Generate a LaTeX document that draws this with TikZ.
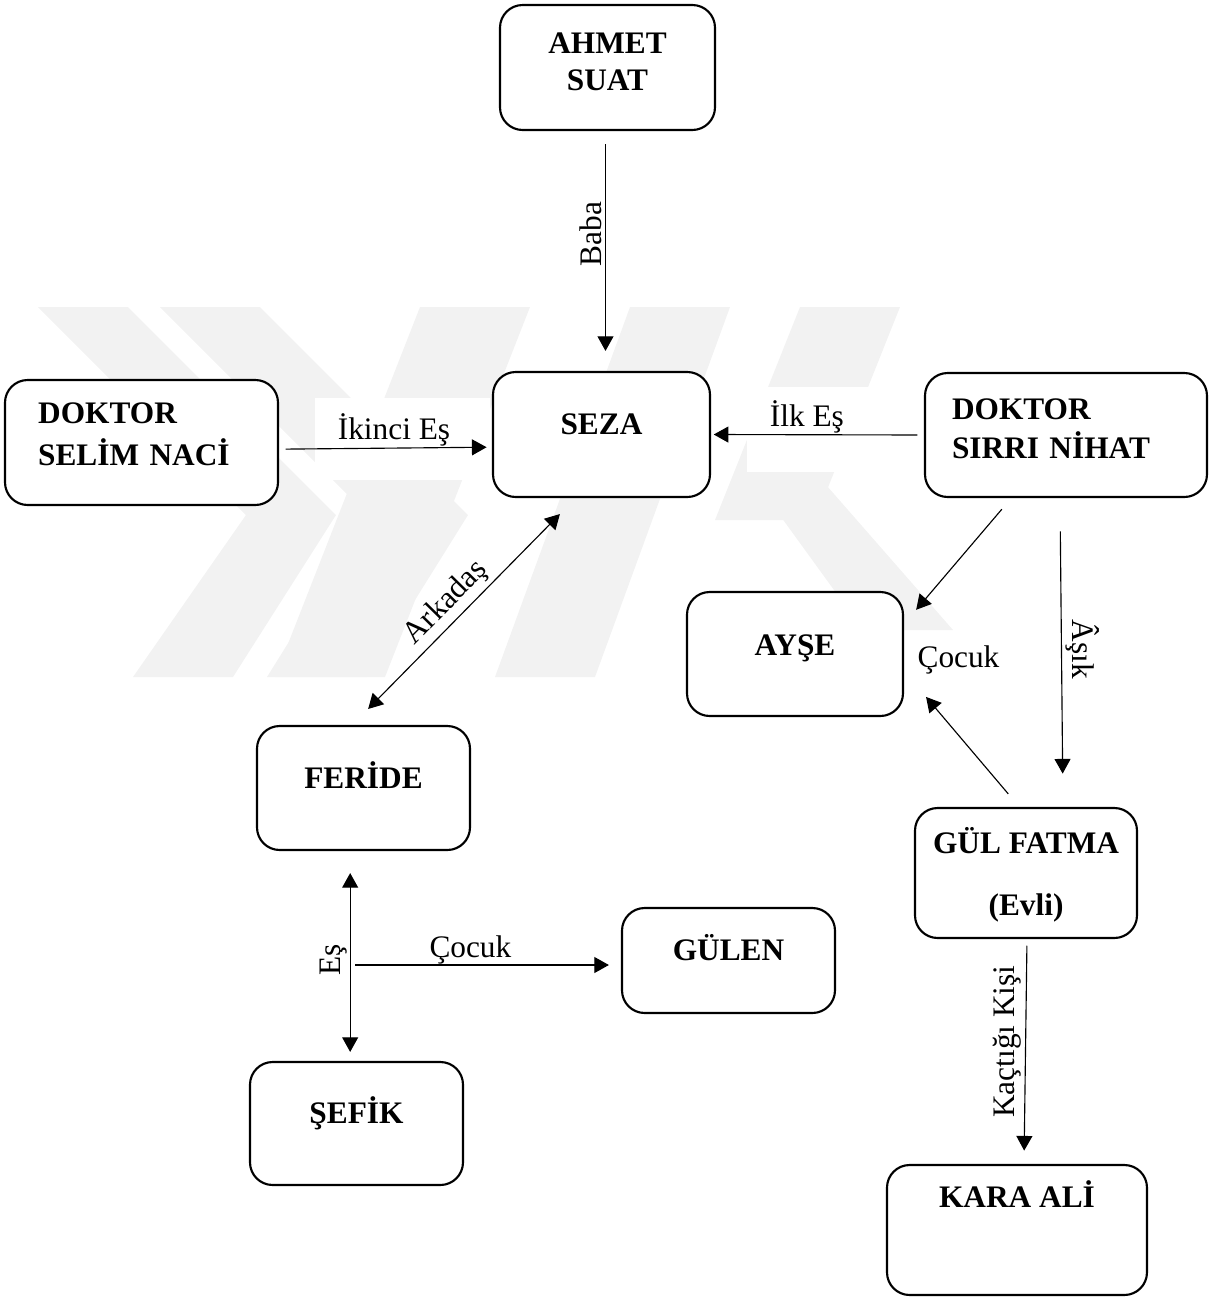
\documentclass[tikz,border=0pt]{standalone}
\usepackage{fontspec}
\setmainfont{Liberation Serif}
\usetikzlibrary{positioning,arrows.meta}
\newcommand{\dgfont}{\fontsize{23.5}{28}\selectfont}

\begin{document}
\begin{tikzpicture}[x=0.75pt, y=-0.75pt,
    every node/.style={font=\dgfont},
    pbox/.style={draw, line width=1.6pt, rounded corners=17pt, fill=white, font=\dgfont\bfseries, align=center},
    onel/.style={text height=16pt, text depth=16pt},
    arr/.style={-{Triangle[length=11pt,width=12pt]}, line width=0.85pt},
    darr/.style={{Triangle[length=11pt,width=12pt]}-{Triangle[length=11pt,width=12pt]}, line width=0.85pt},
    lbl/.style={inner sep=2pt}]
    \useasboundingbox (0,0) rectangle (1213,1297);
    \fill[black!5] (38,307) -- (128,307) -- (336,515) -- (233,677) -- (133,677) -- (246,515) -- cycle;
    \fill[black!5] (160,307) -- (260,307) -- (468,515) -- (367,677) -- (267,677) -- (368,515) -- cycle;
    \fill[black!5] (420,307) -- (530,307) -- (385,677) -- (275,677) -- cycle;
    \fill[black!5] (630,307) -- (730,307) -- (595,677) -- (495,677) -- cycle;
    \fill[black!5] (800,307) -- (900,307) -- (815,520) -- (715,520) -- cycle;
    \fill[black!5] (747,470) -- (813,470) -- (953,630) -- (863,630) -- cycle;
    \fill[white] (315,398) rectangle (490,480);
    \fill[white] (747,387) rectangle (923,472);

    \node[pbox, text height=34.5pt, text depth=0pt, minimum width=161.25pt, minimum height=93.75pt] (ahmet) at (607.5,67.5) {AHMET\\SUAT};
    \node[pbox, onel, minimum width=162.75pt, minimum height=93.75pt] (seza) at (601.5,434.5) {SEZA};
    \node[pbox, align=left, text width=155pt, text height=16pt, text depth=44.5pt, minimum width=204.75pt, minimum height=93.75pt] (selim) at (141.5,442.5) {DOKTOR\\[3.5pt]SELİM NACİ};
    \node[pbox, align=left, text width=171pt, text height=16pt, text depth=39.25pt, minimum width=211.5pt, minimum height=93pt] (sirri) at (1066,435) {DOKTOR\\[1pt]SIRRI NİHAT};
    \node[pbox, onel, text depth=14pt, minimum width=162pt, minimum height=93pt] (ayse) at (795,654) {AYŞE};
    \node[pbox, onel, minimum width=159.75pt, minimum height=93pt] (feride) at (363.5,788) {FERİDE};
    \node[pbox, text height=64pt, text depth=0pt, minimum width=166.5pt, minimum height=97.5pt] (gulfatma) at (1026,873) {GÜL FATMA\\[18.5pt](Evli)};
    \node[pbox, onel, minimum width=159.75pt, minimum height=78.75pt] (gulen) at (728.5,960.5) {GÜLEN};
    \node[pbox, onel, minimum width=159.75pt, minimum height=92.25pt] (sefik) at (356.5,1123.5) {ŞEFİK};
    \node[pbox, onel, text depth=49.75pt, minimum width=195pt, minimum height=97.5pt] (kara) at (1017,1230) {KARA ALİ};

    \draw[arr, shorten <=10pt, shorten >=15pt] ([xshift=-1.5pt]ahmet.south) -- ([xshift=-1.5pt]ahmet.south |- seza.north) node[lbl, pos=.43, rotate=90, anchor=south] {Baba};
    \draw[arr, shorten <=5pt, shorten >=4pt] ([yshift=-5pt]selim.east) -- ([yshift=-9.5pt]seza.west) node[lbl, pos=.54, above, inner sep=1pt] {İkinci Eş};
    \draw[arr, shorten <=5pt, shorten >=2pt] (sirri.west) -- (seza.east) node[lbl, pos=.55, above, inner sep=1pt] {İlk Eş};
    \draw[darr, shorten <=16.8pt, shorten >=16.8pt] ([xshift=-8.3pt]feride.north) -- ([xshift=-19.4pt]seza.south) node[lbl, pos=.48, sloped, above, inner sep=3pt] {Arkadaş};
    \draw[arr, shorten <=11pt, shorten >=14pt] ([xshift=-41pt]sirri.south) -- ([yshift=22.5pt]ayse.east);
    \draw[arr, shorten <=25pt, shorten >=25pt] ([xshift=-4.5pt]sirri.south) -- ([xshift=27.75pt]gulfatma.north) node[lbl, pos=.49, rotate=-90, anchor=south, inner sep=3pt] {Âşık};
    \draw[arr, shorten <=12.8pt, shorten >=25.5pt] ([xshift=-5pt]gulfatma.north) -- ([yshift=-12.75pt]ayse.east);
    \node (cocukr) at (958.5,660) {Çocuk};
    \draw[darr, shorten <=16.5pt, shorten >=6.75pt] ([xshift=-10pt]feride.south) -- ([xshift=-10pt]feride.south |- sefik.north) node[lbl, pos=.52, rotate=90, anchor=south] {Eş};
    \coordinate (esjoint) at (355,965);
    \draw[arr, shorten >=9pt] (esjoint) -- (esjoint -| gulen.west) node[lbl, pos=.434, above, inner sep=0.5pt] {Çocuk};
    \draw[arr, shorten <=5pt, shorten >=10pt] ([xshift=0.75pt]gulfatma.south) -- ([xshift=5.25pt]kara.north) node[lbl, pos=.456, rotate=90, anchor=south, inner sep=3pt] {Kaçtığı Kişi};
\end{tikzpicture}
\end{document}
